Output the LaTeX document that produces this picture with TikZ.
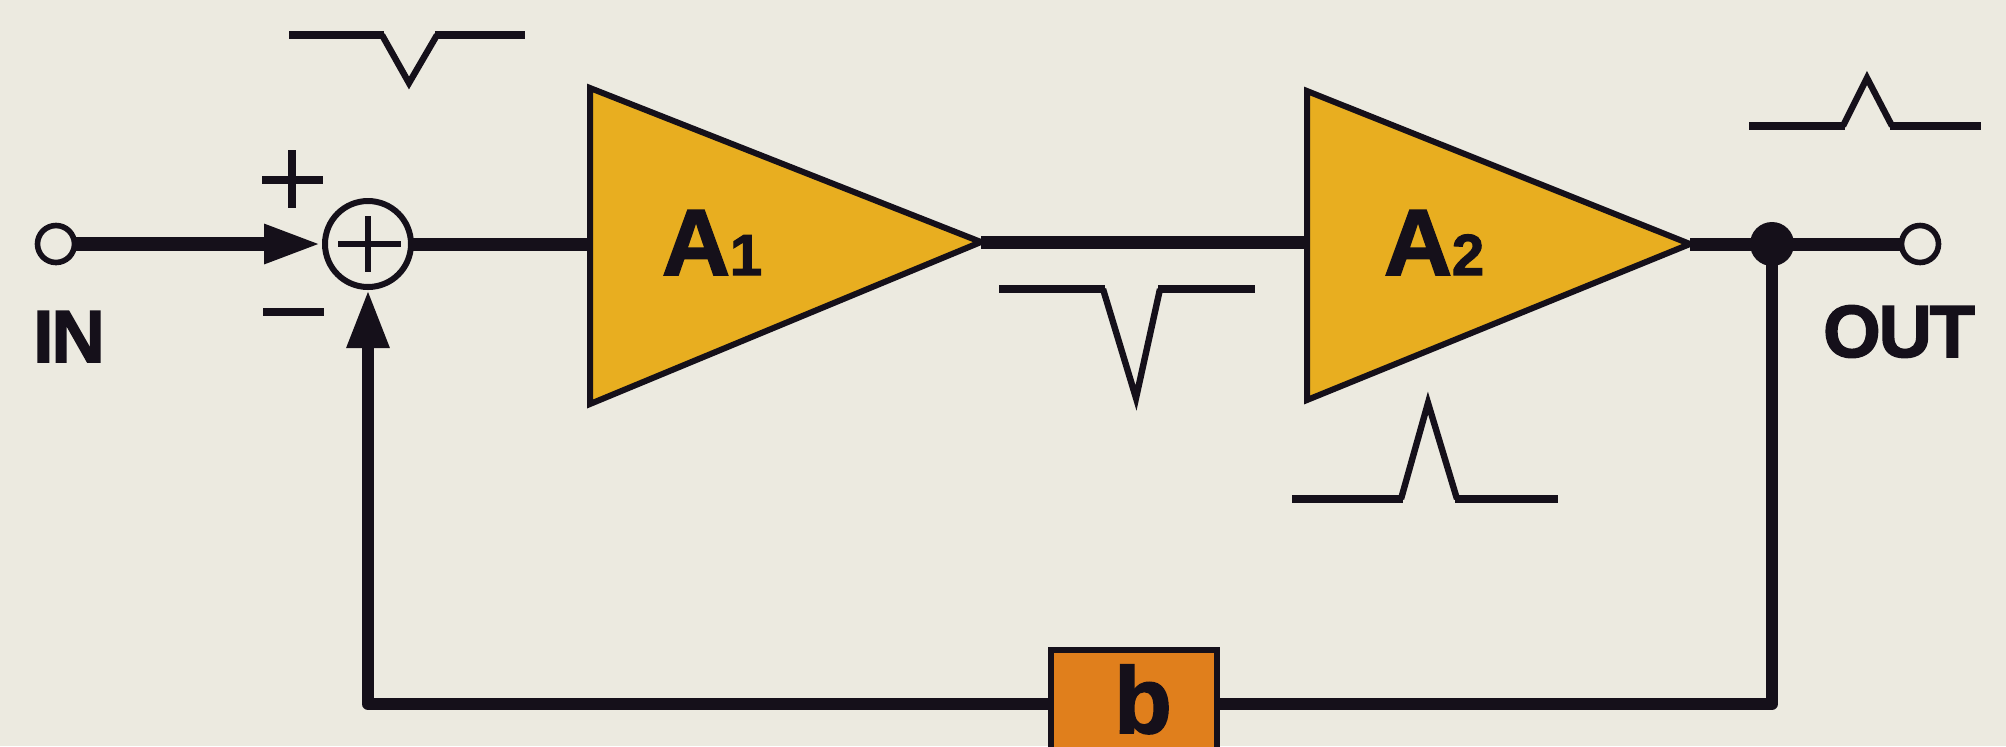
\documentclass[tikz,border=0pt]{standalone}
\usepackage{fontspec}
\setmainfont{Liberation Sans}
\newfontfamily\heavyfont{Liberation Sans Bold}[FakeBold=2,LetterSpace=-3]
\usetikzlibrary{arrows.meta}
\pgfdeclarelayer{paperlayer}
\pgfdeclarelayer{wirelayer}
\pgfsetlayers{paperlayer,wirelayer,main}
\definecolor{paper}{HTML}{ECEAE0}
\definecolor{amp}{HTML}{E8AE20}
\definecolor{fbk}{HTML}{E07F1C}
\definecolor{ink}{HTML}{15101A}
\tikzset{
  x=0.5pt,y=-0.5pt,
  wire/.style={draw=ink,line width=6.5pt},
  fbwire/.style={draw=ink,line width=6pt,line join=round},
  pulseflat/.style={draw=ink,line width=4.2pt},
  pulseslant/.style={draw=ink,line width=3.2pt,miter limit=12},
  amplifier/.style={draw=ink,fill=amp,line width=3pt,line join=miter},
  terminal/.style={circle,draw=ink,fill=paper,line width=2.8pt,minimum size=18.5pt,inner sep=0pt},
  summer/.style={circle,draw=ink,fill=paper,line width=3pt,minimum size=43pt,inner sep=0pt},
  junction/.style={circle,fill=ink,minimum size=22pt,inner sep=0pt},
  fbox/.style={rectangle,draw=ink,fill=fbk,line width=3.2pt,minimum width=83pt,minimum height=54pt,inner sep=0pt},
  sidearrow/.style={-{Triangle[length=29pt,width=18pt]}},
  uparrow/.style={-{Triangle[length=29pt,width=20pt]}},
  label/.style={anchor=base,inner sep=0pt,text=ink,font=\fontsize{37}{37}\selectfont\heavyfont},
  amplabel/.style={anchor=base,inner sep=0pt,text=ink,font=\fontsize{47}{47}\selectfont\heavyfont},
  ampsub/.style={anchor=base,inner sep=0pt,text=ink,font=\fontsize{29}{29}\selectfont\heavyfont},
  signmark/.style={draw=ink,line width=3.6pt},
  innermark/.style={draw=ink,line width=2.6pt},
  minusmark/.style={draw=ink,line width=4.4pt},
}
\begin{document}
\begin{tikzpicture}
\useasboundingbox (0,0) rectangle (2006,746);
\clip (0,0) rectangle (2006,746);
\begin{pgfonlayer}{paperlayer}
\fill[paper] (0,0) rectangle (2006,746);
\end{pgfonlayer}

% reference points
\coordinate (a1in) at (590,244);
\coordinate (a1tip) at (981,242);
\coordinate (a1top) at (590,88);
\coordinate (a1bot) at (590,404);
\coordinate (a2in) at (1307,243);
\coordinate (a2tip) at (1690,244);
\coordinate (a2top) at (1307,91);
\coordinate (a2bot) at (1307,400);
\coordinate (cornerL) at (368,704);
\coordinate (cornerR) at (1772,704);

\node[terminal] (in) at (56,244) {};
\node[summer] (sum) at (368,244) {};
\node[junction] (dot) at (1772,244) {};
\node[terminal] (out) at (1920,244) {};
\node[fbox] (b) at (1134,704) {};

% connectors
\begin{pgfonlayer}{wirelayer}
\draw[draw=ink,line width=7pt,sidearrow] (in.center) -- (sum.west);
\draw[wire] (sum.center) -- (a1in);
\draw[wire] (a1tip) -- (a1tip -| a2in);
\draw[wire] (a2tip) -- (dot.center);
\draw[wire] (dot.center) -- (out.center);
\draw[fbwire] (dot.center) -- (cornerR) -- (b.center);
\draw[fbwire,uparrow] (b.center) -- (cornerL) -- (sum.south);
\end{pgfonlayer}

% amplifiers
\draw[amplifier] (a1top) -- (a1tip) -- (a1bot) -- cycle;
\draw[amplifier] (a2top) -- (a2tip) -- (a2bot) -- cycle;

% signs
\draw[innermark] (338,244) -- (401,244);
\draw[innermark] (368,216) -- (368,272);
\draw[signmark] (262,180) -- (323,180);
\draw[signmark] (292,150) -- (292,208);
\draw[minusmark] (263,312) -- (324,312);

% pulses
\draw[pulseflat] (289,35) -- (384,35) (435,35) -- (525,35);
\draw[pulseslant] (382,35) -- (409,83) -- (437,35);
\draw[pulseflat] (999,289) -- (1105,289) (1158,289) -- (1255,289);
\draw[pulseslant] (1103,289) -- (1136,398) -- (1160,289);
\draw[pulseflat] (1292,499) -- (1403,499) (1455,499) -- (1558,499);
\draw[pulseslant] (1401,499) -- (1428,403) -- (1457,499);
\draw[pulseflat] (1749,126) -- (1845,126) (1890,126) -- (1981,126);
\draw[pulseslant] (1843,126) -- (1867,78) -- (1892,126);

% labels
\node[label] (inlbl) at (69,362) {IN};
\node[label] (outlbl) at (1899,357) {OUT};
\node[amplabel] (a1lbl) at (696,275) {A};
\node[ampsub] (a1sub) at (746,275) {1};
\node[amplabel] (a2lbl) at (1418,275) {A};
\node[ampsub] (a2sub) at (1468,275) {2};
\node[amplabel] (blbl) at (1143,733) {b};
\end{tikzpicture}
\end{document}
